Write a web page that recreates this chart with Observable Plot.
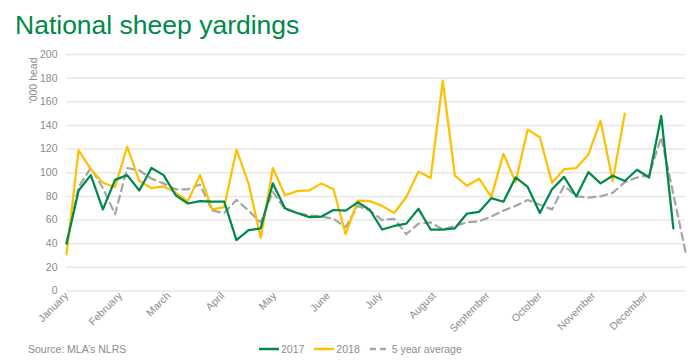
<!DOCTYPE html>
<html><head><meta charset="utf-8">
<script src="https://cdn.jsdelivr.net/npm/d3@7"></script>
<script src="https://cdn.jsdelivr.net/npm/@observablehq/plot@0.6"></script>
<style>
body{margin:0;background:#fff;}
#wrap{position:relative;width:700px;height:362px;overflow:hidden;font-family:"Liberation Sans",Arial,sans-serif;}
#title{position:absolute;left:15px;top:11.5px;font-size:26.5px;line-height:26.5px;color:#00894a;white-space:nowrap;}
#chart{position:absolute;left:0;top:40px;}
#source{position:absolute;left:28px;top:342px;font-size:10.5px;line-height:14px;color:#8c8c8c;}
#legend{position:absolute;left:259px;top:342px;height:14px;display:flex;align-items:center;font-size:10.5px;color:#8c8c8c;}
#legend .item{display:flex;align-items:center;margin-right:10px;}
#legend svg{margin-right:2px;}
</style></head>
<body><div id="wrap">
<div id="title">National sheep yardings</div>
<div id="chart"></div>
<div id="source">Source: MLA’s NLRS</div>
<div id="legend"></div>
</div>
<script>
const weeks = ["2017-01-01","2017-01-08","2017-01-15","2017-01-22","2017-01-29",
"2017-02-05","2017-02-12","2017-02-19","2017-02-26",
"2017-03-05","2017-03-12","2017-03-19","2017-03-26",
"2017-04-02","2017-04-09","2017-04-16","2017-04-23","2017-04-30",
"2017-05-07","2017-05-14","2017-05-21","2017-05-28",
"2017-06-04","2017-06-11","2017-06-18","2017-06-25",
"2017-07-02","2017-07-09","2017-07-16","2017-07-23","2017-07-30",
"2017-08-06","2017-08-13","2017-08-20","2017-08-27",
"2017-09-03","2017-09-10","2017-09-17","2017-09-24",
"2017-10-01","2017-10-08","2017-10-15","2017-10-22","2017-10-29",
"2017-11-05","2017-11-12","2017-11-19","2017-11-26",
"2017-12-03","2017-12-10","2017-12-17","2017-12-24"];

const y2017 = [40,85,98,69,94,98,85,104,98,81,74,76,75.5,75.5,43,51.5,53,91,70,66,62.5,63,68.5,68,75,68.5,
52,55,57,69.5,52,52,53,65.5,67,78.5,75.5,96,88,66,86,96.5,80,100.5,91,97.5,93,102.5,96,148,53];

const y2018 = [31,119,103,91.5,88,122,93,87,88.5,83,76,98,69,71,119.5,91,45,104,81,84.5,85,91,86,48,76.5,76,
72,66,79.5,101,95.5,178,97.5,89,95,79.5,116,92,136.5,130,91.5,103,104,115.5,144,93,150];

const avg5 = [40.5,88,104,87,65,104,102,95,91,86,86,90,68,66,77,68,58,84,69,66,64,63,61,54,72,68,
60,61,48,57,58,52,55,58,59,63,68,72,77,73,69,89,80,79,80,83,92,96,98,130,82,33];

const monthTicks = ["2017-01-01","2017-02-01","2017-03-01","2017-04-01","2017-05-01","2017-06-01",
"2017-07-01","2017-08-01","2017-09-01","2017-10-01","2017-11-01","2017-12-01"];
const monthNames = ["January","February","March","April","May","June","July","August","September","October","November","December"];
const yTicks = [0,20,40,60,80,100,120,140,160,180,200];

const seriesNames = ["2017","2018","5 year average"];
const colors = ["#00894a","#ffc000","#a6a6a6"];

const parse = d3.utcParse("%Y-%m-%d");
const dates = weeks.map(parse);
const mk = (arr) => arr.map((v,i)=>({date:dates[i], value:v}));
const d2017 = mk(y2017), d2018 = mk(y2018), dAvg = mk(avg5);
const tickDates = monthTicks.map(parse);

const chart = Plot.plot({
  width:700, height:300,
  marginLeft:66, marginRight:15, marginTop:14, marginBottom:49.5,
  style:{fontFamily:"Liberation Sans, Arial, sans-serif", fontSize:"10.5px", color:"#8c8c8c", background:"#fff"},
  x:{type:"utc", domain:[dates[0], dates[dates.length-1]]},
  y:{domain:[0,200]},
  marks:[
    Plot.ruleY(yTicks, {stroke:"#e8e8e8", strokeWidth:1.5}),
    Plot.axisY({ticks:yTicks, tickSize:0, tickPadding:9, label:null, fill:"#8c8c8c", fontSize:10.5}),
    Plot.axisX({ticks:tickDates, tickSize:0, tickPadding:3, tickRotate:-45, label:null,
      tickFormat:(d)=>monthNames[d.getUTCMonth()], fill:"#8c8c8c", fontSize:10.5}),
    Plot.text(["'000 head"], {frameAnchor:"top-left", rotate:-90, textAnchor:"end", dx:-37, dy:3, fill:"#8c8c8c", fontSize:10.5}),
    Plot.line(dAvg, {x:"date", y:"value", stroke:colors[2], strokeWidth:2.25, strokeDasharray:"7,5"}),
    Plot.line(d2018, {x:"date", y:"value", stroke:colors[1], strokeWidth:2.25}),
    Plot.line(d2017, {x:"date", y:"value", stroke:colors[0], strokeWidth:2.25})
  ]
});
document.getElementById("chart").appendChild(chart);

const legend = document.getElementById("legend");
seriesNames.forEach((name,i)=>{
  const item = document.createElement("div");
  item.className = "item";
  const dash = i===2 ? 'stroke-dasharray="6,4"' : '';
  item.innerHTML = `<svg width="20" height="6"><line x1="0" y1="3" x2="20" y2="3" stroke="${colors[i]}" stroke-width="2.5" ${dash}/></svg><span>${name}</span>`;
  legend.appendChild(item);
});
</script>
</body></html>
